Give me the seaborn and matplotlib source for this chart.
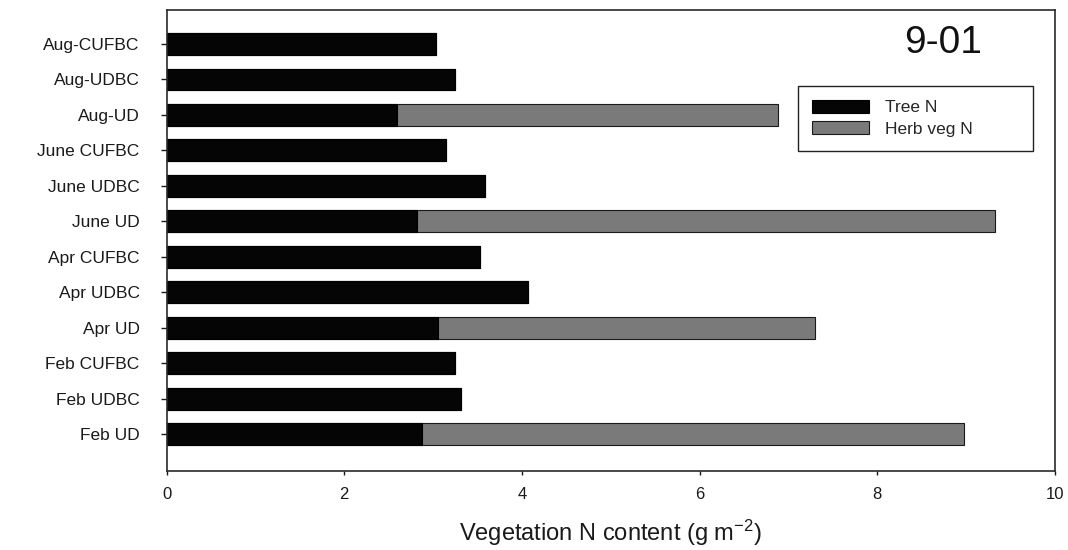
import numpy as np
import pandas as pd
import matplotlib
matplotlib.use("Agg")
import matplotlib.pyplot as plt
import seaborn as sns
from matplotlib.patches import Patch

# ---- data ----
categories = ["Aug-CUFBC", "Aug-UDBC", "Aug-UD", "June CUFBC", "June UDBC", "June UD",
              "Apr CUFBC", "Apr UDBC", "Apr UD", "Feb CUFBC", "Feb UDBC", "Feb UD"]
tree_n = [3.03, 3.25, 2.59, 3.15, 3.59, 2.82, 3.53, 4.07, 3.05, 3.25, 3.31, 2.87]
herb_n = [0.0, 0.0, 4.29, 0.0, 0.0, 6.51, 0.0, 0.0, 4.25, 0.0, 0.0, 6.11]
x_ticks = [0, 2, 4, 6, 8, 10]
series_names = ["Tree N", "Herb veg N"]
panel_title = "9-01"
x_title = "Vegetation N content (g m$^{-2}$)"

tree_color = "#050505"
herb_color = "#7a7a7a"

sns.set_style("ticks")
plt.rcParams["font.family"] = ["Liberation Sans", "DejaVu Sans"]
plt.rcParams["mathtext.default"] = "regular"

df = pd.DataFrame({"cat": categories, "tree": tree_n, "herb": herb_n})
df["total"] = df["tree"] + df["herb"]

fig = plt.figure(figsize=(10.68, 5.5), dpi=100)
fig.patch.set_facecolor("white")
ax = fig.add_axes([0.156, 0.1442, 0.8317, 0.8376])

sns.barplot(data=df, x="total", y="cat", order=categories, orient="h",
            color=herb_color, saturation=1, width=0.62, errorbar=None,
            edgecolor="#1a1a1a", linewidth=0.8, ax=ax)
sns.barplot(data=df, x="tree", y="cat", order=categories, orient="h",
            color=tree_color, saturation=1, width=0.62, errorbar=None,
            edgecolor="#000000", linewidth=0.8, ax=ax)

ax.set_xlim(0, 10)
ax.set_xticks(x_ticks)
ax.set_xticklabels([str(t) for t in x_ticks])
ax.set_ylim(12.035, -0.96)

for s in ax.spines.values():
    s.set_visible(True)
    s.set_linewidth(1.2)
    s.set_color("#2a2a2a")

ax.tick_params(axis="y", length=4.5, width=1, pad=15, labelsize=12.5, colors="#1a1a1a")
ax.tick_params(axis="x", length=3, width=1, pad=9, labelsize=12, colors="#1a1a1a")
ax.set_ylabel("")
ax.set_xlabel(x_title, fontsize=17, labelpad=11, color="#1a1a1a")

ax.text(0.874, 0.928, panel_title, transform=ax.transAxes, ha="center", va="center",
        fontsize=28, color="#111111")

handles = [Patch(facecolor=tree_color, edgecolor="#000000", linewidth=0.8),
           Patch(facecolor=herb_color, edgecolor="#1a1a1a", linewidth=0.8)]
leg = ax.legend(handles, series_names, loc="upper left",
                bbox_to_anchor=(0.711, 0.692, 0.264, 0.143), mode="expand",
                frameon=True, fancybox=False, fontsize=12.5,
                handlelength=3.3, handleheight=0.75, handletextpad=0.9,
                labelspacing=0.35, borderpad=0.8, borderaxespad=0)
leg.get_frame().set_edgecolor("#222222")
leg.get_frame().set_linewidth(1.0)
leg.get_frame().set_alpha(1)

fig.savefig("out.png", dpi=100, facecolor="white")
